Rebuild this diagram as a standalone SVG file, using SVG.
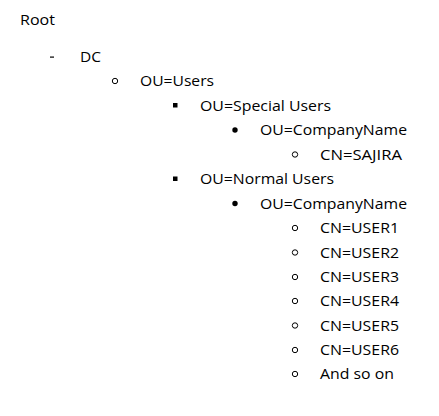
<svg xmlns="http://www.w3.org/2000/svg" width="439" height="416" viewBox="0 0 439 416">
<style>
text{font-family:"Open Sans","Liberation Sans",sans-serif;font-size:14px;fill:#000}
.oc{fill:none;stroke:#000;stroke-width:1}
.fc{fill:#000}
</style>
<rect width="439" height="416" fill="#fff"/>
<g id="root"><text x="20" y="25" textLength="35" lengthAdjust="spacingAndGlyphs">Root</text></g>
<g id="dc"><rect x="50" y="56.5" width="4" height="1.2" fill="#000"/><text x="80" y="61.5" textLength="21" lengthAdjust="spacingAndGlyphs">DC</text></g>
<g id="ou-users"><circle class="oc" cx="115" cy="81" r="2.7"/><text x="140" y="86" textLength="74" lengthAdjust="spacingAndGlyphs">OU=Users</text></g>
<g id="ou-special"><rect class="fc" x="173" y="103" width="4.5" height="4.5"/><text x="200" y="110.5" textLength="131" lengthAdjust="spacingAndGlyphs">OU=Special Users</text></g>
<g id="ou-company1"><circle class="fc" cx="235" cy="130" r="2.7"/><text x="260" y="135" textLength="147" lengthAdjust="spacingAndGlyphs">OU=CompanyName</text></g>
<g id="cn-sajira"><circle class="oc" cx="295" cy="154.5" r="2.7"/><text x="320" y="159.5" textLength="82" lengthAdjust="spacingAndGlyphs">CN=SAJIRA</text></g>
<g id="ou-normal"><rect class="fc" x="173" y="176.5" width="4.5" height="4.5"/><text x="200" y="184" textLength="134" lengthAdjust="spacingAndGlyphs">OU=Normal Users</text></g>
<g id="ou-company2"><circle class="fc" cx="235" cy="203.5" r="2.7"/><text x="260" y="208.5" textLength="147" lengthAdjust="spacingAndGlyphs">OU=CompanyName</text></g>
<g id="cn-user1"><circle class="oc" cx="295" cy="228" r="2.7"/><text x="320" y="233" textLength="79" lengthAdjust="spacingAndGlyphs">CN=USER1</text></g>
<g id="cn-user2"><circle class="oc" cx="295" cy="252.5" r="2.7"/><text x="320" y="257.5" textLength="79" lengthAdjust="spacingAndGlyphs">CN=USER2</text></g>
<g id="cn-user3"><circle class="oc" cx="295" cy="277" r="2.7"/><text x="320" y="282" textLength="79" lengthAdjust="spacingAndGlyphs">CN=USER3</text></g>
<g id="cn-user4"><circle class="oc" cx="295" cy="301" r="2.7"/><text x="320" y="306" textLength="79" lengthAdjust="spacingAndGlyphs">CN=USER4</text></g>
<g id="cn-user5"><circle class="oc" cx="295" cy="325.5" r="2.7"/><text x="320" y="330.5" textLength="79" lengthAdjust="spacingAndGlyphs">CN=USER5</text></g>
<g id="cn-user6"><circle class="oc" cx="295" cy="350" r="2.7"/><text x="320" y="355" textLength="79" lengthAdjust="spacingAndGlyphs">CN=USER6</text></g>
<g id="and-so-on"><circle class="oc" cx="295" cy="374" r="2.7"/><text x="320" y="379" textLength="74" lengthAdjust="spacingAndGlyphs">And so on</text></g>
<g id="connectors"></g>
</svg>
